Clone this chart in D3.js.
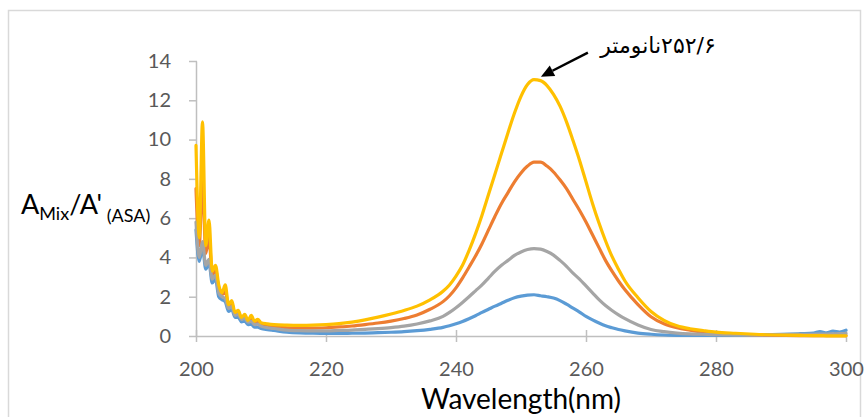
<!DOCTYPE html>
<html>
<head>
<meta charset="utf-8">
<script src="https://cdn.jsdelivr.net/npm/d3@7"></script>
<style>
  body { margin: 0; background: #fff; }
  svg { display: block; }
</style>
</head>
<body>
<svg id="chart" width="867" height="417"></svg>
<script>
// wavelength grid (nm), finer in the noisy region near 200
const wavelengths = [
  200, 200.5, 201, 201.5, 202, 202.5, 203, 203.5, 204, 204.5, 205, 205.5, 206, 206.5, 207, 207.5, 208, 208.5, 209, 209.5, 210,
  211, 212, 214, 216, 218, 220, 222, 224, 226, 228, 230, 232, 234, 236, 238,
  239, 240, 241, 242, 243, 244, 245, 246, 247, 248, 249, 250, 251, 252, 253, 254, 255, 256, 257, 258, 259, 260, 261, 262, 263, 264, 265, 266,
  268, 270, 272, 274, 276, 278, 280,
  283, 286, 290, 293, 295, 296, 297, 298, 299, 300
];

const blueValues = [
  5.4, 3.8, 4.5, 3.4, 3.7, 2.7, 2.9, 2.0, 1.85, 1.75, 1.25, 1.35, 0.95, 0.95, 0.72, 0.75, 0.58, 0.6, 0.45, 0.45, 0.38,
  0.32, 0.28, 0.2, 0.16, 0.14, 0.13, 0.13, 0.14, 0.15, 0.17, 0.19, 0.22, 0.27, 0.34, 0.44,
  0.52, 0.62, 0.74, 0.88, 1.03, 1.2, 1.36, 1.52, 1.67, 1.82, 1.95, 2.03, 2.08, 2.1, 2.05, 2.0, 1.93, 1.8, 1.62, 1.42, 1.22, 1.0, 0.82, 0.66, 0.52, 0.42, 0.33, 0.26,
  0.15, 0.09, 0.05, 0.03, 0.03, 0.03, 0.03,
  0.04, 0.05, 0.08, 0.12, 0.15, 0.22, 0.16, 0.25, 0.2, 0.3
];

const orangeValues = [
  7.5, 4.6, 8.0, 4.2, 5.0, 3.1, 3.4, 2.4, 2.1, 2.3, 1.5, 1.65, 1.12, 1.2, 0.9, 1.0, 0.75, 0.9, 0.66, 0.72, 0.6,
  0.55, 0.5, 0.42, 0.4, 0.4, 0.42, 0.46, 0.51, 0.58, 0.66, 0.76, 0.89, 1.07, 1.36, 1.75,
  2.05, 2.45, 2.95, 3.5, 4.07, 4.7, 5.4, 6.1, 6.75, 7.3, 7.85, 8.3, 8.65, 8.85, 8.85, 8.65, 8.35, 7.95, 7.5, 6.95, 6.4, 5.8, 5.15, 4.5, 3.85, 3.3, 2.8, 2.35,
  1.6, 0.98, 0.62, 0.42, 0.3, 0.2, 0.14,
  0.09, 0.05, 0.03, 0.02, 0.02, 0.02, 0.02, 0.02, 0.02, 0.02
];

const grayValues = [
  5.8, 4.0, 4.8, 3.6, 3.9, 2.9, 3.1, 2.2, 2.0, 1.9, 1.4, 1.5, 1.05, 1.1, 0.85, 0.9, 0.7, 0.75, 0.58, 0.6, 0.5,
  0.42, 0.38, 0.3, 0.27, 0.26, 0.26, 0.28, 0.3, 0.34, 0.38, 0.43, 0.5, 0.61, 0.77, 1.0,
  1.2, 1.44, 1.71, 2.0, 2.3, 2.6, 2.95, 3.3, 3.6, 3.85, 4.1, 4.28, 4.4, 4.45, 4.42, 4.3, 4.12, 3.85, 3.55, 3.2, 2.9, 2.55, 2.2, 1.85, 1.55, 1.3, 1.08, 0.88,
  0.56, 0.33, 0.22, 0.15, 0.11, 0.09, 0.07,
  0.06, 0.06, 0.07, 0.08, 0.09, 0.1, 0.1, 0.11, 0.12, 0.13
];

const yellowValues = [
  9.7, 5.0, 10.9, 4.6, 5.9, 3.3, 3.6, 2.6, 2.2, 2.6, 1.6, 1.8, 1.2, 1.3, 0.95, 1.1, 0.8, 1.05, 0.75, 0.85, 0.68,
  0.62, 0.58, 0.55, 0.54, 0.55, 0.58, 0.63, 0.71, 0.82, 0.96, 1.12, 1.3, 1.52, 1.84, 2.28,
  2.6, 3.05, 3.6, 4.35, 5.2, 6.15, 7.2, 8.25, 9.3, 10.35, 11.35, 12.2, 12.8, 13.05, 13.0, 12.75, 12.3, 11.7, 10.9, 9.95, 8.95, 7.85, 6.75, 5.75, 4.85, 4.05, 3.4, 2.8,
  1.95, 1.25, 0.8, 0.52, 0.37, 0.28, 0.2,
  0.14, 0.09, 0.05, 0.03, 0.02, 0.02, 0.01, 0.01, 0.01, 0.01
];

const seriesColors = ["#5B9BD5", "#ED7D31", "#A5A5A5", "#FFC000"];
const xTicks = [200, 220, 240, 260, 280, 300];
const yTicks = [0, 2, 4, 6, 8, 10, 12, 14];
const peakWavelength = 252.6;
const peakLabel = "۲۵۲/۶نانومتر";

const svg = d3.select("#chart");
const margin = { left: 196, right: 21, top: 61, bottom: 81 };
const width = 867, height = 417;

// outer chart border
svg.append("rect")
  .attr("x", 8.5).attr("y", 10.5)
  .attr("width", 852).attr("height", 430)
  .attr("fill", "none")
  .attr("stroke", "#D9D9D9")
  .attr("stroke-width", 1.5);

const x = d3.scaleLinear().domain([200, 300]).range([margin.left, width - margin.right]);
const y = d3.scaleLinear().domain([0, 14]).range([height - margin.bottom, margin.top]);

const axisColor = "#BFBFBF";
const labelColor = "#595959";
const tickFont = "Lato, 'Open Sans', sans-serif";

// y axis
let gY = svg.append("g")
  .attr("transform", `translate(${x(200)},0)`)
  .call(d3.axisLeft(y).tickValues(yTicks).tickSize(7).tickPadding(18).tickSizeOuter(0));
gY.select(".domain").attr("stroke", axisColor).attr("stroke-width", 1.5);
gY.selectAll(".tick line").attr("stroke", axisColor).attr("stroke-width", 1.5).attr("x2", -7).attr("x1", 1);
gY.selectAll(".tick text")
  .attr("fill", labelColor)
  .attr("font-family", tickFont)
  .attr("font-size", "20px");

// x axis
let gX = svg.append("g")
  .attr("transform", `translate(0,${y(0)})`)
  .call(d3.axisBottom(x).tickValues(xTicks).tickSize(6).tickPadding(20).tickSizeOuter(0));
gX.select(".domain").attr("stroke", axisColor).attr("stroke-width", 1.5);
gX.selectAll(".tick line").attr("stroke", axisColor).attr("stroke-width", 1.5).attr("y1", -6);
gX.selectAll(".tick text")
  .attr("fill", labelColor)
  .attr("font-family", tickFont)
  .attr("font-size", "20px");

// spectra
const line = d3.line()
  .x((d, i) => x(wavelengths[i]))
  .y(d => y(d))
  .curve(d3.curveMonotoneX);

[blueValues, orangeValues, grayValues, yellowValues].forEach((vals, k) => {
  svg.append("path")
    .datum(vals)
    .attr("fill", "none")
    .attr("stroke", seriesColors[k])
    .attr("stroke-width", 3.2)
    .attr("stroke-linejoin", "round")
    .attr("stroke-linecap", "round")
    .attr("d", line);
});

// x axis title
svg.append("text")
  .attr("x", (x(200) + x(300)) / 2)
  .attr("y", 409)
  .attr("text-anchor", "middle")
  .attr("font-family", tickFont)
  .attr("font-size", "28px")
  .attr("fill", "#000")
  .text("Wavelength(nm)");

// y axis title with subscripts
let yTitle = svg.append("text")
  .attr("x", 21)
  .attr("y", 214)
  .attr("font-family", tickFont)
  .attr("font-size", "27px")
  .attr("fill", "#000");
yTitle.append("tspan").text("A");
yTitle.append("tspan").attr("font-size", "18px").attr("dy", 6).text("Mix");
yTitle.append("tspan").attr("dy", -6).text("/A'");
yTitle.append("tspan").attr("font-size", "18px").attr("dy", 8).text(" (ASA)");

// peak annotation arrow
const tipX = x(peakWavelength) + 3, tipY = y(13.05) - 3;
const startX = tipX + 47, startY = tipY - 24;
const ang = Math.atan2(tipY - startY, tipX - startX);
const headLen = 13, headW = 6;
const baseX = tipX - headLen * Math.cos(ang), baseY = tipY - headLen * Math.sin(ang);
svg.append("line")
  .attr("x1", startX).attr("y1", startY)
  .attr("x2", baseX).attr("y2", baseY)
  .attr("stroke", "#000").attr("stroke-width", 2.5);
svg.append("path")
  .attr("d", d3.line()([
    [tipX, tipY],
    [baseX + headW * Math.sin(ang), baseY - headW * Math.cos(ang)],
    [baseX - headW * Math.sin(ang), baseY + headW * Math.cos(ang)]
  ]) + "Z")
  .attr("fill", "#000");

svg.append("text")
  .attr("x", 658)
  .attr("y", 53)
  .attr("text-anchor", "middle")
  .attr("direction", "rtl")
  .attr("unicode-bidi", "embed")
  .attr("font-family", "'DejaVu Sans', sans-serif")
  .attr("font-size", "22px")
  .attr("fill", "#000")
  .text(peakLabel);
</script>
</body>
</html>
